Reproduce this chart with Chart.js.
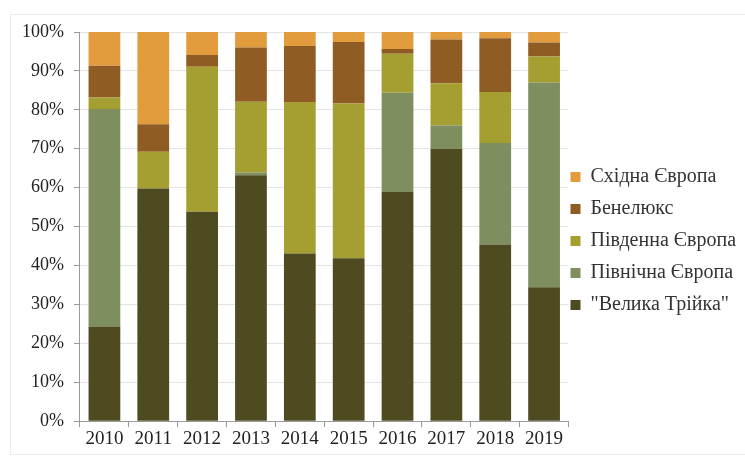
<!DOCTYPE html>
<html>
<head>
<meta charset="utf-8">
<script src="https://cdn.jsdelivr.net/npm/chart.js@4"></script>
<style>
  html, body { margin: 0; padding: 0; background: #fff; }
  #wrap { position: relative; width: 745px; height: 458px; overflow: hidden; }
  #frame { position: absolute; left: 10px; top: 14px; width: 760px; height: 441px; border: 1px solid #ececec; box-sizing: border-box; }
  canvas { position: absolute; left: 0; top: 0; }
</style>
</head>
<body>
<div id="wrap">
  <div id="frame"></div>
  <canvas id="c" width="745" height="458"></canvas>
</div>
<script>
const categories = ["2010","2011","2012","2013","2014","2015","2016","2017","2018","2019"];
const velykaTriika = [24.3, 59.8, 53.8, 63.2, 43.1, 41.9, 58.9, 70.0, 45.4, 34.4];
const pivnichna   = [55.9,  0.0,  0.0,  0.7,  0.0,  0.0, 25.5,  6.0, 26.1, 52.6];
const pivdenna    = [ 3.0,  9.4, 37.3, 18.2, 38.9, 39.7, 10.0, 10.8, 13.1,  6.7];
const benelux     = [ 8.1,  7.1,  3.0, 13.9, 14.4, 15.8,  1.2, 11.3, 13.8,  3.6];
const skhidna     = [ 8.7, 23.7,  5.9,  4.0,  3.6,  2.6,  4.4,  1.9,  1.6,  2.7];
const seriesNames = ['"Велика Трійка"', "Північна Європа", "Південна Європа", "Бенелюкс", "Східна Європа"];
const yTicks = [0,10,20,30,40,50,60,70,80,90,100];

const colors = ["#4d4b1f", "#7f8e5e", "#a59e30", "#8f5c23", "#e29c3d"];
const values = [velykaTriika, pivnichna, pivdenna, benelux, skhidna];

const datasets = values.map((v, i) => ({
  label: seriesNames[i],
  data: v,
  backgroundColor: colors[i],
  borderWidth: 0,
  categoryPercentage: 1.0,
  barPercentage: 0.65
}));

const yFont = { family: "Liberation Serif", size: 18 };
const xFont = { family: "Liberation Serif", size: 19 };
const legendFont = { family: "Liberation Serif", size: 20 };

const legendShift = {
  id: "legendShift",
  beforeDraw(chart) {
    if (chart.legend && !chart.legend._shifted) {
      chart.legend.left -= 10;
      chart.legend.right -= 10;
      chart.legend._shifted = true;
    }
  }
};

new Chart(document.getElementById("c"), {
  type: "bar",
  data: { labels: categories, datasets },
  plugins: [legendShift],
  options: {
    responsive: false,
    animation: false,
    layout: { padding: { left: 12, top: 32, right: -9, bottom: 8 } },
    plugins: {
      tooltip: { enabled: false },
      legend: {
        position: "right",
        reverse: true,
        align: "center",
        labels: {
          font: legendFont,
          color: "#333",
          boxWidth: 10,
          boxHeight: 10,
          padding: 12
        }
      }
    },
    scales: {
      x: {
        stacked: true,
        grid: { display: true, drawOnChartArea: false, drawTicks: true, tickLength: 6, color: "#9a9a9a", offset: true },
        border: { color: "#9a9a9a" },
        ticks: { font: xFont, color: "#222", padding: 0, maxRotation: 0 }
      },
      y: {
        stacked: true,
        min: 0,
        max: 100,
        afterBuildTicks: (axis) => { axis.ticks = yTicks.map(v => ({ value: v })); },
        grid: { color: "#e4e4e4", tickLength: 6, tickColor: "#9a9a9a" },
        border: { color: "#9a9a9a" },
        ticks: { font: yFont, color: "#222", padding: 10, callback: v => v + "%" }
      }
    }
  }
});
</script>
</body>
</html>
